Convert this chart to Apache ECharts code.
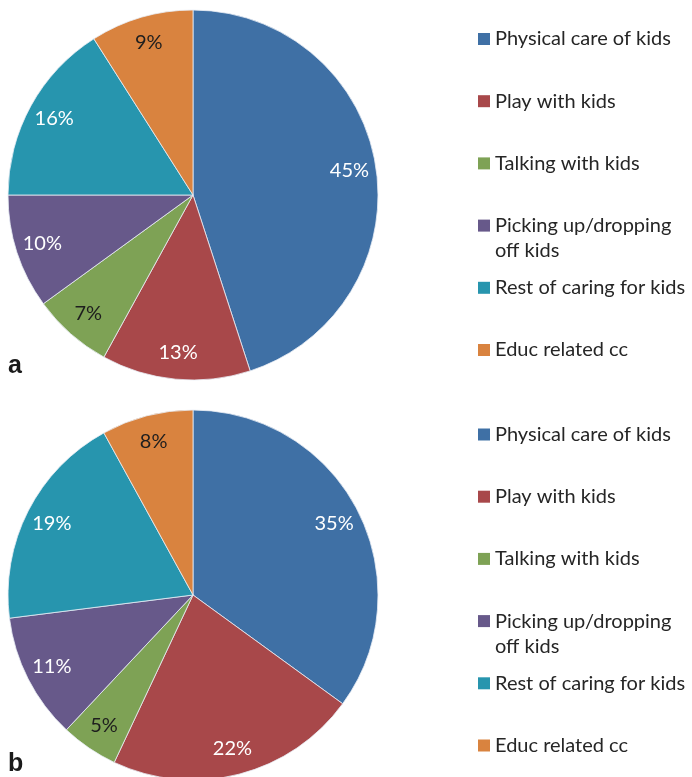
<!DOCTYPE html>
<html>
<head>
<meta charset="utf-8">
<script src="https://cdn.jsdelivr.net/npm/echarts@6/dist/echarts.min.js"></script>
<style>
  html, body { margin: 0; padding: 0; background: #fff; }
  #chart { width: 692px; height: 777px; }
</style>
</head>
<body>
<div id="chart"></div>
<script>
// Childcare time split by activity, two panels (a, b)
const categories = [
  'Physical care of kids',
  'Play with kids',
  'Talking with kids',
  'Picking up/dropping off kids',
  'Rest of caring for kids',
  'Educ related cc'
];
const legendLabels = [
  'Physical care of kids',
  'Play with kids',
  'Talking with kids',
  'Picking up/dropping\noff kids',
  'Rest of caring for kids',
  'Educ related cc'
];
const valuesA = [45, 13, 7, 10, 16, 9];
const valuesB = [35, 22, 5, 11, 19, 8];
const panelTags = ['a', 'b'];

const palette = ['#3F70A5', '#A8484A', '#7EA255', '#67598A', '#2795AE', '#D9833F'];
const darkLabelCats = ['Talking with kids', 'Educ related cc'];
const FONT = 'Lato';
const FONT_SIZE = 20;
const LINE_H = 25;

const panels = [
  { values: valuesA, center: [193, 195], radius: 185, legendTop: 39 },
  { values: valuesB, center: [193, 595], radius: 185, legendTop: 434.5 }
];
const legendStep = 62.2;

const series = [];
const legends = [];
const titles = [];

panels.forEach(function (p, pi) {
  const data = categories.map(function (name, i) {
    return {
      name: name,
      value: p.values[i],
      itemStyle: { color: palette[i] },
      label: { color: darkLabelCats.indexOf(name) >= 0 ? '#1e1e1e' : '#ffffff' }
    };
  });
  // slices
  series.push({
    type: 'pie',
    center: p.center,
    radius: p.radius,
    startAngle: 90,
    clockwise: true,
    silent: true,
    animation: false,
    label: { show: false },
    labelLine: { show: false },
    itemStyle: { borderColor: '#e9eef5', borderWidth: 0.8 },
    data: data
  });
  // value labels placed near the rim
  series.push({
    type: 'pie',
    center: p.center,
    radius: [p.radius * 0.68, p.radius],
    startAngle: 90,
    clockwise: true,
    silent: true,
    animation: false,
    avoidLabelOverlap: false,
    itemStyle: { color: 'rgba(0,0,0,0)', borderWidth: 0 },
    label: {
      show: true,
      position: 'inside',
      formatter: '{c}%',
      fontFamily: FONT,
      fontSize: FONT_SIZE
    },
    labelLine: { show: false },
    data: data.map(function (d) {
      return { name: d.name, value: d.value, label: d.label, itemStyle: { color: 'rgba(0,0,0,0)' } };
    })
  });

  categories.forEach(function (name, i) {
    const c = p.legendTop + i * legendStep;
    const twoLine = legendLabels[i].indexOf('\n') >= 0;
    // a wrapped entry gets a leading blank line so its first line sits level with the swatch
    const text = twoLine ? '\n' + legendLabels[i] : legendLabels[i];
    legends.push({
      data: [name],
      orient: 'vertical',
      left: 478,
      top: twoLine ? c - LINE_H * 1.5 : c - LINE_H / 2,
      padding: 0,
      itemWidth: 12,
      itemHeight: 12,
      icon: 'rect',
      selectedMode: false,
      itemStyle: { borderWidth: 0 },
      formatter: function () { return text; },
      textStyle: {
        fontFamily: FONT,
        fontSize: FONT_SIZE,
        color: '#262626',
        lineHeight: LINE_H
      }
    });
  });

  titles.push({
    text: panelTags[pi],
    left: 8,
    top: pi === 0 ? 354 : 752,
    padding: 0,
    textStyle: { fontFamily: 'Liberation Sans', fontWeight: 'bold', fontSize: 25, color: '#1a1a1a' }
  });
});

const chart = echarts.init(document.getElementById('chart'), null, { renderer: 'canvas' });
chart.setOption({
  backgroundColor: '#ffffff',
  animation: false,
  title: titles,
  legend: legends,
  series: series
});
</script>
</body>
</html>
